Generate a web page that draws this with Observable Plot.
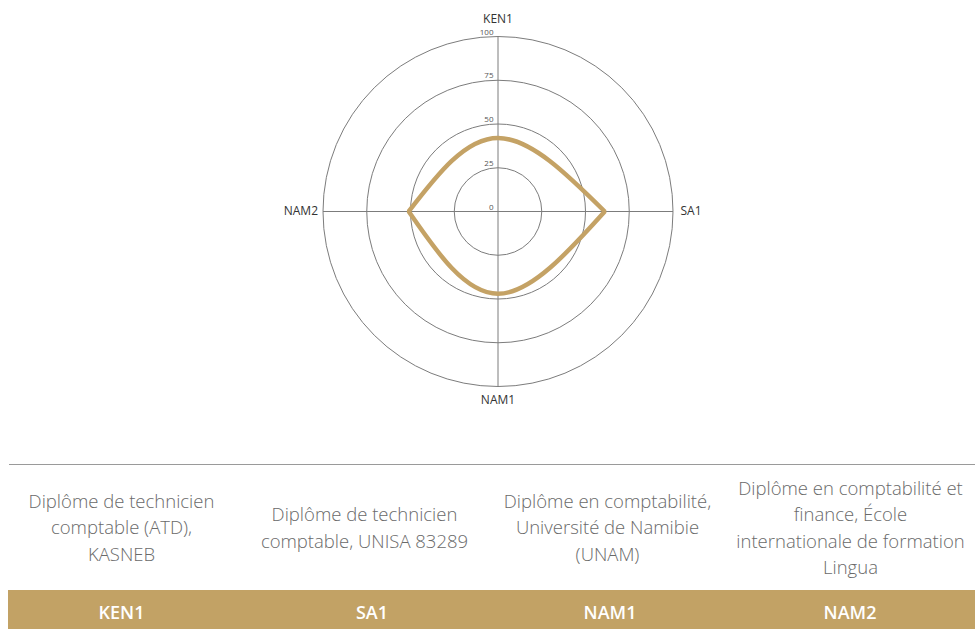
<!DOCTYPE html>
<html>
<head>
<meta charset="utf-8">
<script src="https://cdn.jsdelivr.net/npm/d3@7"></script>
<script src="https://cdn.jsdelivr.net/npm/@observablehq/plot@0.6"></script>
<style>
  html, body { margin: 0; padding: 0; background: #fff; }
  body { width: 975px; height: 629px; overflow: hidden; font-family: "Open Sans", sans-serif; position: relative; }
  #chart svg { display: block; }
  #rule { position: absolute; left: 9px; top: 464px; width: 966px; height: 0; border-top: 1px solid #9a9a9a; }
  #desc { position: absolute; left: 0; top: 465px; height: 125px; display: grid; grid-template-columns: 243px 243px 243px 243px; }
  #desc div { display: flex; align-items: center; justify-content: center; text-align: center; white-space: pre-line;
              color: #6a6a6a; font-size: 18.5px; font-weight: 300; line-height: 26.5px; height: 125px; }
  #codes { position: absolute; left: 8px; top: 590px; height: 44px; width: 981px; background: #c2a265;
           display: grid; grid-template-columns: 227px 274px 202px 278px; }
  #codes div { display: flex; align-items: center; justify-content: center; color: #fff; font-size: 18px; font-weight: 600; }
</style>
</head>
<body>
<div id="chart"></div>
<div id="rule"></div>
<div id="desc"></div>
<div id="codes"></div>
<script>
// ---- data ----
const axes = ["KEN1", "SA1", "NAM1", "NAM2"];
const values = [42, 61, 47, 51];
const ringTicks = [0, 25, 50, 75, 100];
const descriptions = [
  "Diplôme de technicien\ncomptable (ATD),\nKASNEB",
  "Diplôme de technicien\ncomptable, UNISA 83289",
  "Diplôme en comptabilité,\nUniversité de Namibie\n(UNAM)",
  "Diplôme en comptabilité et\nfinance, École\ninternationale de formation\nLingua"
];

// ---- layout ----
const W = 975, H = 465, CX = 497.5, CY = 211, R = 175, MAXV = 100;
const k = R / MAXV; // px per unit

// polar helpers (clockwise from top)
const angleOf = i => Math.PI / 2 - i * 2 * Math.PI / axes.length;
const px = (v, i) => v * Math.cos(angleOf(i));
const py = (v, i) => v * Math.sin(angleOf(i));

const spokes = axes.map((name, i) => ({name, i, x2: px(MAXV, i), y2: py(MAXV, i)}));
// series ordered starting from the last axis so the closed loop splits into two halves at the side axes
const order = axes.map((_, j) => (j + axes.length - 1) % axes.length);
const series = order.map(i => ({name: axes[i], x: px(values[i], i), y: py(values[i], i)}));
const rings = ringTicks.filter(d => d > 0);

// closed outline drawn as two natural splines meeting at the side axes
function lensCurve(context) {
  let pts;
  return {
    areaStart() {}, areaEnd() {},
    lineStart() { pts = []; },
    point(x, y) { pts.push([+x, +y]); },
    lineEnd() {
      const n = pts.length, h = Math.floor(n / 2);
      const halves = [pts.slice(0, h + 1), pts.slice(h).concat([pts[0]])];
      const nat = d3.curveNatural(context);
      nat.areaStart();
      for (const half of halves) {
        nat.lineStart();
        for (const [x, y] of half) nat.point(x, y);
        nat.lineEnd();
      }
    }
  };
}

const grid = "#7c7c7c";
const font = "'Open Sans', sans-serif";
const isVert = d => Math.abs(Math.cos(angleOf(d.i))) < 0.5;
const chart = Plot.plot({
  width: W, height: H,
  margin: 0,
  style: {fontFamily: font, background: "#fff", overflow: "visible"},
  x: {type: "linear", domain: [-CX / k, (W - CX) / k], range: [0, W], axis: null},
  y: {type: "linear", domain: [CY / k, -(H - CY) / k], range: [0, H], axis: null},
  r: {type: "linear", domain: [0, MAXV], range: [0, R]},
  marks: [
    Plot.dot(rings, {x: () => 0, y: () => 0, r: d => d, stroke: grid, strokeWidth: 1, fill: "none"}),
    Plot.link(spokes, {x1: () => 0, y1: () => 0, x2: "x2", y2: "y2", stroke: grid, strokeWidth: 1}),
    Plot.text(ringTicks, {x: () => 0, y: d => d, text: d => String(d), textAnchor: "end", dx: -4.5, dy: -4.5, fontSize: 8, fill: "#555"}),
    Plot.line(series, {x: "x", y: "y", curve: lensCurve, stroke: "#c4a265", strokeWidth: 4.5, fill: "none", strokeLinejoin: "miter"}),
    // axis names
    Plot.text(spokes.filter(d => isVert(d) && d.y2 > 0), {x: "x2", y: "y2", text: "name", dy: -17, fontSize: 12, fill: "#333"}),
    Plot.text(spokes.filter(d => isVert(d) && d.y2 < 0), {x: "x2", y: "y2", text: "name", dy: 13.5, fontSize: 12, fill: "#333"}),
    Plot.text(spokes.filter(d => !isVert(d) && d.x2 > 0), {x: "x2", y: "y2", text: "name", dx: 7.5, textAnchor: "start", fontSize: 12, fill: "#333"}),
    Plot.text(spokes.filter(d => !isVert(d) && d.x2 < 0), {x: "x2", y: "y2", text: "name", dx: -5, textAnchor: "end", fontSize: 12, fill: "#333"})
  ]
});
document.getElementById("chart").appendChild(chart);

// table below
d3.select("#desc").selectAll("div").data(descriptions).join("div").text(d => d);
d3.select("#codes").selectAll("div").data(axes).join("div").text(d => d);
</script>
</body>
</html>
